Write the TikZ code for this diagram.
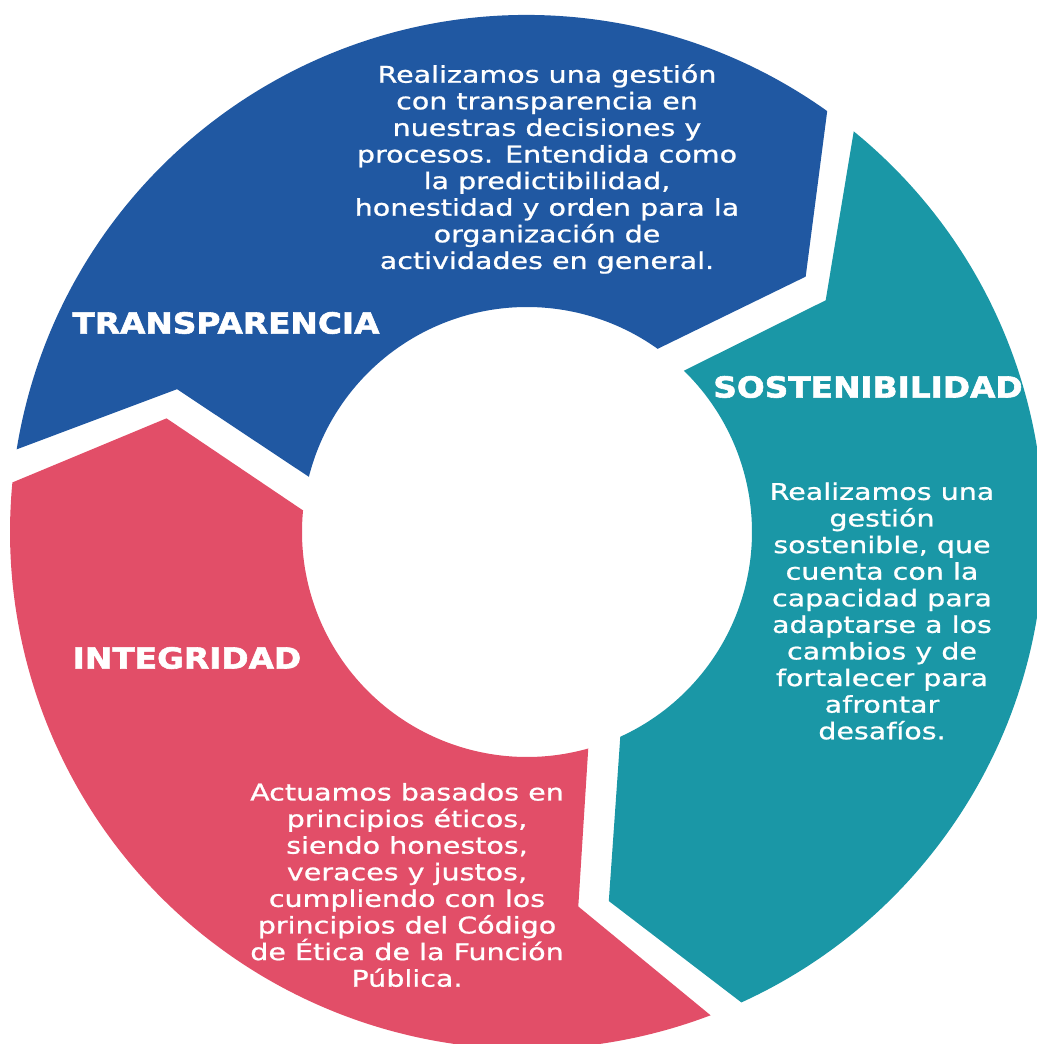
\documentclass[tikz,border=0pt]{standalone}
\usepackage{fontspec}
\newfontfamily\bodyfont{DejaVu Sans}[FakeStretch=1.24, FakeBold=0.9]
\newfontfamily\titlefont{DejaVu Sans}[FakeStretch=1.13, FakeBold=2]
\definecolor{trblue}{HTML}{2058A2}
\definecolor{stteal}{HTML}{1A97A6}
\definecolor{inpink}{HTML}{E24E68}
\begin{document}
\begin{tikzpicture}[x=1pt, y=1pt,
    body/.style = {text=white, align=center, inner sep=0pt, font=\bodyfont\fontsize{23}{26.6}\selectfont},
    title/.style = {text=white, inner sep=0pt, font=\titlefont\bfseries\fontsize{29}{30}\selectfont}]
    \useasboundingbox (-527,-512) rectangle (509,532);
    % ring parts: head corner angle / colour
    \foreach \a/\col in {54.5/trblue, -65.5/stteal, 174.5/inpink}
        \fill[\col] ({\a+116.3}:517) arc[start angle={\a+116.3}, end angle=\a, radius=517pt]
            -- ({\a-12}:378) -- (\a:225)
            arc[start angle=\a, end angle={\a+111.3}, radius=225pt]
            -- ({\a+103.3}:378) -- cycle;
    \node[title] (trtitle) at (-301,209) {TRANSPARENCIA};
    \node[title] (sttitle) at (341,145) {SOSTENIBILIDAD};
    \node[title] (intitle) at (-340,-126) {INTEGRIDAD};
    \node[body] (trtext) at (20,363) {Realizamos una gestión\\con transparencia en\\nuestras decisiones y\\procesos. Entendida como\\la predictibilidad,\\honestidad y orden para la\\organización de\\actividades en general.};
    \node[body] (sttext) at (355,-79) {Realizamos una\\gestión\\sostenible, que\\cuenta con la\\capacidad para\\adaptarse a los\\cambios y de\\fortalecer para\\afrontar\\desafíos.};
    \node[body] (intext) at (-120,-353) {Actuamos basados en\\principios éticos,\\siendo honestos,\\veraces y justos,\\cumpliendo con los\\principios del Código\\de Ética de la Función\\Pública.};
\end{tikzpicture}
\end{document}
